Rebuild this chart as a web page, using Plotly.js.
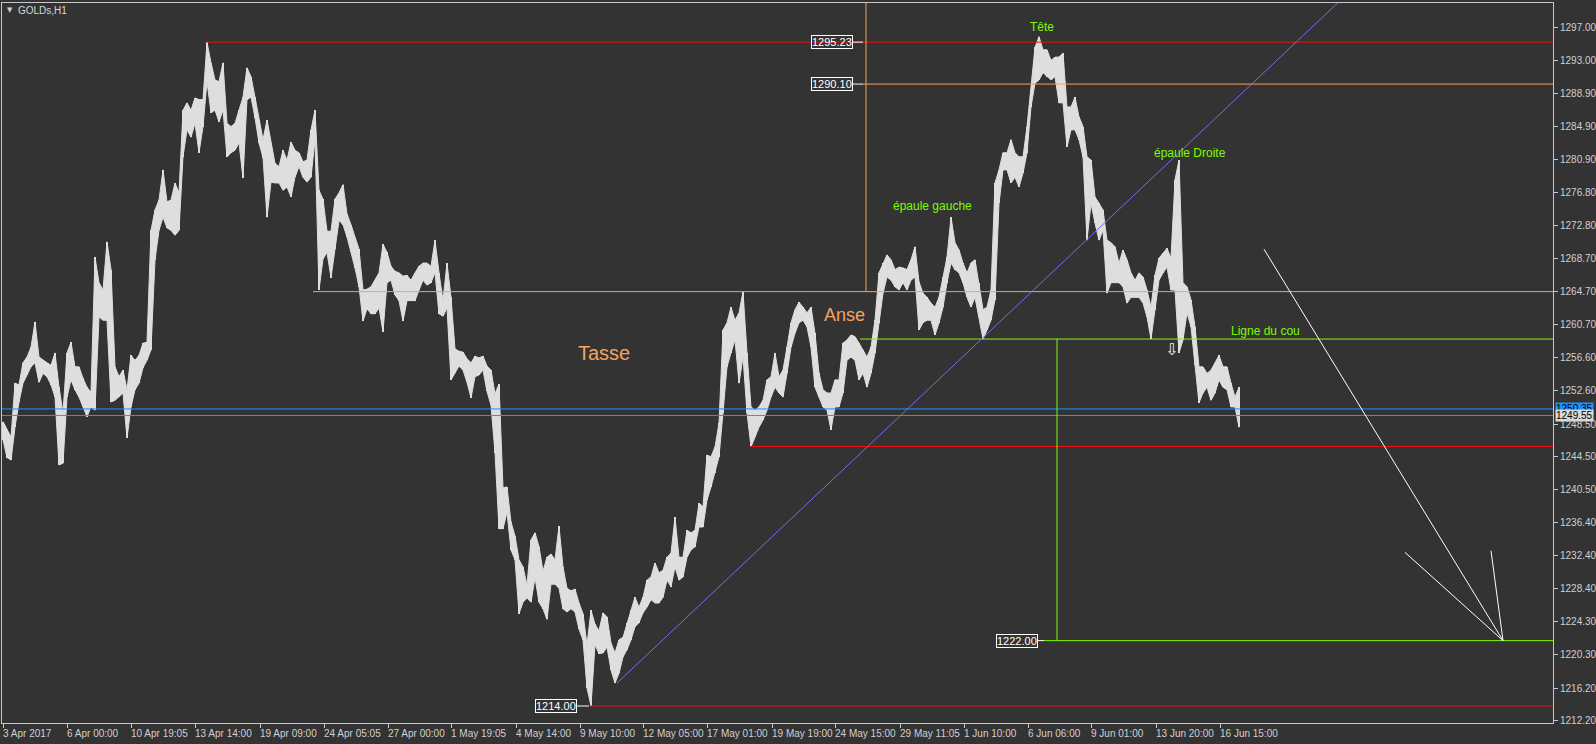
<!DOCTYPE html>
<html>
<head>
<meta charset="utf-8">
<script src="https://cdn.plot.ly/plotly-3.0.1.min.js"></script>
<style>
html,body{margin:0;padding:0;background:#333333;}
#chart{width:1596px;height:744px;}
</style>
</head>
<body>
<div id="chart"></div>
<script>
// ---- Chart data (GOLDs, H1) : high/low, one entry per 4 hourly bars ----
const symbolTitle = 'GOLDs,H1';
const barsPerEntry = 4;

const highs = [
1248.8,1247.8,1246.9,1253.5,1253.3,1256.0,1256.7,1257.9,1261.0,1256.7,
1256.3,1256.0,1255.7,1257.2,1253.0,1249.9,1257.2,1258.5,1255.5,1255.5,
1254.1,1253.0,1252.4,1268.9,1265.8,1264.9,1270.8,1267.4,1255.5,1254.3,
1255.1,1252.7,1256.9,1256.3,1256.9,1258.4,1258.5,1272.2,1274.7,1275.9,
1279.6,1275.7,1275.9,1278.0,1276.8,1286.9,1287.8,1286.9,1288.4,1288.2,
1288.2,1295.2,1292.7,1290.6,1290.4,1292.7,1285.3,1284.9,1285.3,1286.9,
1288.5,1292.1,1291.0,1288.5,1285.7,1283.3,1285.7,1282.9,1280.4,1280.0,
1282.0,1280.8,1283.0,1282.0,1281.7,1280.6,1280.8,1284.5,1286.9,1277.1,
1276.0,1272.1,1272.1,1276.0,1276.8,1277.8,1274.2,1272.9,1271.3,1269.9,
1264.9,1265.0,1265.3,1266.1,1267.0,1270.5,1269.5,1267.8,1267.2,1267.0,
1266.6,1266.7,1266.1,1267.0,1267.8,1268.2,1268.2,1267.8,1271.0,1267.0,
1263.6,1268.2,1264.0,1257.7,1257.4,1257.3,1256.5,1256.0,1256.8,1256.6,
1256.8,1255.6,1255.1,1252.2,1253.4,1240.7,1240.8,1236.5,1234.8,1231.9,
1231.0,1228.8,1234.3,1235.2,1233.5,1230.5,1232.2,1232.6,1231.9,1236.0,
1231.0,1228.4,1228.1,1228.3,1226.6,1225.3,1221.5,1225.7,1224.0,1223.2,
1225.4,1224.9,1221.7,1220.5,1222.1,1222.4,1224.2,1225.7,1227.3,1226.1,
1227.3,1229.4,1229.8,1231.5,1230.3,1230.6,1232.2,1232.7,1237.1,1232.2,
1232.2,1235.5,1235.2,1235.5,1238.8,1238.4,1244.7,1244.5,1245.7,1248.6,
1260.0,1260.9,1262.8,1261.2,1262.1,1264.7,1257.2,1250.6,1250.2,1250.6,
1251.4,1253.9,1254.3,1257.2,1254.3,1255.1,1257.9,1260.9,1262.5,1263.4,
1262.8,1262.1,1262.8,1259.6,1254.7,1252.7,1252.3,1252.3,1253.9,1253.9,
1258.4,1258.8,1259.4,1259.2,1258.4,1257.6,1256.7,1257.9,1261.2,1267.0,
1268.2,1269.2,1268.6,1267.4,1267.7,1267.6,1267.4,1268.6,1270.2,1265.9,
1264.5,1264.0,1263.3,1262.8,1264.0,1266.5,1268.9,1273.8,1270.7,1269.8,
1268.2,1267.0,1268.2,1268.6,1265.8,1262.5,1262.8,1264.9,1278.0,1279.6,
1281.7,1281.7,1283.3,1281.7,1281.2,1281.2,1284.9,1289.4,1294.6,1295.9,
1294.3,1294.3,1293.0,1293.4,1293.4,1293.9,1287.3,1287.3,1288.5,1286.1,
1284.9,1281.2,1280.8,1276.3,1275.5,1274.7,1271.0,1270.7,1270.2,1268.2,
1269.8,1268.6,1267.0,1266.1,1267.0,1266.5,1264.9,1262.8,1266.7,1268.8,
1269.4,1270.0,1268.8,1278.4,1280.8,1265.8,1265.3,1263.7,1260.4,1255.5,
1255.5,1254.7,1255.1,1256.0,1256.9,1255.5,1255.5,1253.5,1251.8,1253.0
];

const lows = [
1246.6,1244.4,1244.1,1248.1,1251.2,1253.5,1254.5,1255.5,1256.0,1253.6,
1254.7,1254.3,1253.3,1251.8,1243.5,1243.7,1251.8,1253.9,1252.7,1251.8,
1250.6,1249.4,1250.6,1250.2,1261.6,1261.2,1261.2,1251.2,1251.4,1251.8,
1252.3,1246.8,1250.6,1252.7,1253.5,1255.4,1256.3,1257.6,1268.6,1272.2,
1273.8,1272.5,1272.2,1271.6,1272.2,1281.2,1284.5,1283.6,1285.3,1281.7,
1284.9,1290.4,1286.6,1286.9,1285.5,1286.9,1281.2,1281.7,1282.0,1282.9,
1278.6,1288.2,1288.5,1286.0,1282.9,1281.1,1273.8,1278.1,1278.0,1278.0,
1277.1,1277.5,1276.3,1278.7,1280.0,1278.7,1278.1,1278.7,1283.3,1264.9,
1268.7,1269.5,1266.4,1269.9,1273.4,1272.9,1271.4,1269.5,1267.6,1265.3,
1261.1,1262.6,1262.0,1262.0,1262.7,1259.8,1265.8,1266.1,1264.3,1263.6,
1261.1,1263.6,1263.6,1263.6,1264.9,1266.1,1265.5,1265.8,1267.0,1262.0,
1261.7,1262.7,1253.9,1254.7,1255.6,1255.1,1253.6,1251.7,1254.3,1254.5,
1255.1,1252.5,1250.8,1245.0,1235.7,1235.7,1237.7,1233.1,1231.9,1225.3,
1226.7,1227.2,1226.7,1229.7,1226.7,1225.9,1224.6,1228.9,1228.9,1228.4,
1225.9,1225.5,1225.9,1225.5,1223.4,1222.1,1216.2,1214.0,1221.5,1220.4,
1220.5,1221.2,1218.4,1216.8,1218.0,1220.0,1220.9,1222.1,1223.7,1224.2,
1225.4,1226.1,1227.0,1226.6,1226.6,1227.3,1229.4,1228.6,1231.0,1229.4,
1229.8,1232.2,1233.1,1233.5,1235.9,1235.9,1239.2,1240.8,1242.5,1244.5,
1249.9,1255.5,1257.2,1258.8,1253.5,1256.7,1249.9,1245.7,1246.9,1248.1,
1249.0,1250.2,1251.8,1253.0,1252.3,1251.8,1254.7,1257.9,1259.6,1260.9,
1261.2,1260.4,1257.9,1253.0,1251.8,1250.6,1250.2,1247.8,1250.6,1250.6,
1252.3,1256.3,1256.7,1256.3,1253.9,1254.7,1253.0,1254.7,1257.2,1260.9,
1264.5,1266.5,1266.1,1265.3,1264.9,1265.8,1264.9,1266.1,1266.5,1260.0,
1260.9,1261.2,1261.2,1259.4,1260.9,1262.8,1265.8,1268.2,1267.4,1267.0,
1265.8,1264.0,1262.8,1264.0,1261.6,1258.9,1260.0,1261.2,1263.7,1275.5,
1279.6,1279.6,1278.0,1278.7,1277.5,1279.2,1281.7,1287.3,1290.2,1290.6,
1291.5,1291.0,1290.6,1291.0,1287.8,1287.8,1282.4,1284.5,1284.5,1283.3,
1281.2,1271.0,1275.5,1273.1,1271.0,1272.2,1264.5,1265.8,1265.8,1265.8,
1265.3,1263.3,1264.0,1264.0,1264.0,1263.3,1261.6,1258.9,1262.5,1266.1,
1267.0,1267.7,1264.9,1264.9,1257.2,1258.8,1262.1,1260.4,1255.7,1251.1,
1252.3,1253.0,1251.4,1252.3,1253.9,1253.0,1252.7,1250.6,1250.6,1248.1
];

// Time axis (bar index of each label) and labels
const timeTickBars = [3,67,131,195,260,324,388,451,516,580,643,707,772,835,900,964,1028,1091,1156,1220];
const timeTickLabels = ['3 Apr 2017','6 Apr 00:00','10 Apr 19:05','13 Apr 14:00','19 Apr 09:00','24 Apr 05:05',
  '27 Apr 00:00','1 May 19:05','4 May 14:00','9 May 10:00','12 May 05:00','17 May 01:00','19 May 19:00',
  '24 May 15:00','29 May 11:05','1 Jun 10:00','6 Jun 06:00','9 Jun 01:00','13 Jun 20:00','16 Jun 15:00'];

// Price scale labels
const priceTicks = [1297.00,1293.00,1288.90,1284.90,1280.90,1276.80,1272.80,1268.70,1264.70,1260.70,1256.60,
  1252.60,1248.50,1244.50,1240.50,1236.40,1232.40,1228.40,1224.30,1220.30,1216.20,1212.20];

const bidPrice = 1250.35;
const askPrice = 1249.55;

// Drawn objects (bar index, price)
const horizontalLines = [
  {price:1295.23, fromBar:206, color:'#ee1111', label:true, labelBar:853, tipBar:863},
  {price:1290.10, fromBar:863, color:'#f4a460', label:true, labelBar:853, tipBar:863},
  {price:1264.70, fromBar:313, color:'#f4a460', label:false},
  {price:1258.90, fromBar:860, color:'#7cfc00', label:false},
  {price:1245.75, fromBar:750, color:'#ee1111', label:false},
  {price:1222.00, fromBar:1044, color:'#7cfc00', label:true, labelBar:1038, tipBar:1044},
  {price:1214.00, fromBar:589, color:'#ee1111', label:true, labelBar:577, tipBar:589}
];
const verticalSegments = [
  {bar:866, from:1264.70, to:1301.0, color:'#f4a460'},
  {bar:1057, from:1258.90, to:1222.00, color:'#7cfc00'}
];
const trendLine = {bar0:617, price0:1216.8, bar1:1340, price1:1300.3, color:'#7b68ee'};
const arrowLines = [
  {bar0:1264, price0:1269.9, bar1:1503, price1:1222.0},
  {bar0:1405, price0:1232.8, bar1:1503, price1:1222.0},
  {bar0:1491, price0:1233.0, bar1:1503, price1:1222.0}
];
const textLabels = [
  {text:'Tasse', bar:604, price:1257.2, color:'#f4a460', size:20},
  {text:'Anse', bar:844, price:1261.85, color:'#f4a460', size:18},
  {text:'épaule gauche', bar:932, price:1275.2, color:'#7cfc00', size:12},
  {text:'Tête', bar:1042, price:1297.1, color:'#7cfc00', size:12},
  {text:'épaule Droite', bar:1190, price:1281.7, color:'#7cfc00', size:12},
  {text:'Ligne du cou', bar:1265, price:1259.9, color:'#7cfc00', size:12}
];
const arrowSymbol = {text:'⇩', bar:1171, price:1257.6};

// ---- Build ----
const xs = highs.map((_, i) => i * barsPerEntry + barsPerEntry / 2 + 1);
const spans = highs.map((h, i) => h - lows[i]);
const BARCOL = '#dedede';

const lowTrace = {type:'scatter', mode:'lines', x:xs, y:lows, line:{color:BARCOL, width:1, shape:'linear'},
  hoverinfo:'skip', showlegend:false};
const highTrace = {type:'scatter', mode:'lines', x:xs, y:highs, line:{color:BARCOL, width:1, shape:'linear'},
  fill:'tonexty', fillcolor:BARCOL, hoverinfo:'skip', showlegend:false};
const barTrace = {type:'bar', x:xs, y:spans, base:lows, width:1.6,
  marker:{color:BARCOL, line:{width:0}}, hoverinfo:'skip', showlegend:false};

const FONT = 'Liberation Sans, Arial, sans-serif';
const shapes = [];
const annotations = [];

shapes.push({type:'line', xref:'paper', yref:'y', x0:0, x1:1, y0:bidPrice, y1:bidPrice, line:{color:'#1e90ff', width:1}});
shapes.push({type:'line', xref:'paper', yref:'y', x0:0, x1:1, y0:askPrice, y1:askPrice, line:{color:'#808080', width:1}});

horizontalLines.forEach(l => {
  shapes.push({type:'line', xref:'x', yref:'y', x0:l.fromBar, x1:1553, y0:l.price, y1:l.price, line:{color:l.color, width:1}});
  if (l.label) {
    shapes.push({type:'line', xref:'x', yref:'y', x0:l.labelBar, x1:l.tipBar, y0:l.price, y1:l.price, line:{color:'#ffffff', width:1}});
    annotations.push({xref:'x', yref:'y', x:l.labelBar, y:l.price, xanchor:'right', yanchor:'middle',
      text:l.price.toFixed(2), showarrow:false, font:{family:FONT, size:11, color:'#ffffff'},
      bordercolor:'#ffffff', borderwidth:1, borderpad:0});
  }
});
verticalSegments.forEach(v => {
  shapes.push({type:'line', xref:'x', yref:'y', x0:v.bar, x1:v.bar, y0:v.from, y1:v.to, line:{color:v.color, width:1}});
});
shapes.push({type:'line', xref:'x', yref:'y', x0:trendLine.bar0, x1:trendLine.bar1, y0:trendLine.price0, y1:trendLine.price1, line:{color:trendLine.color, width:1}});
arrowLines.forEach(a => {
  shapes.push({type:'line', xref:'x', yref:'y', x0:a.bar0, x1:a.bar1, y0:a.price0, y1:a.price1, line:{color:'#ffffff', width:1}});
});

textLabels.forEach(t => {
  annotations.push({xref:'x', yref:'y', x:t.bar, y:t.price, text:t.text, showarrow:false,
    font:{family:FONT, size:t.size, color:t.color}, xanchor:'center', yanchor:'middle'});
});
annotations.push({xref:'x', yref:'y', x:arrowSymbol.bar, y:arrowSymbol.price, text:arrowSymbol.text, showarrow:false,
  font:{family:'DejaVu Sans', size:16, color:'#e8f0ff'}, xanchor:'center', yanchor:'middle'});

// time labels (left aligned at their tick, as in the terminal)
timeTickBars.forEach((b, i) => {
  annotations.push({xref:'x', yref:'paper', x:b, y:0, xanchor:'left', yanchor:'top', xshift:-2, yshift:-3,
    text:timeTickLabels[i], showarrow:false, font:{family:FONT, size:10, color:'#d0d0d0'}});
});

// bid / ask price labels on the scale
annotations.push({xref:'paper', yref:'y', x:1, y:bidPrice, xanchor:'left', yanchor:'middle', xshift:2,
  text:bidPrice.toFixed(2), showarrow:false, font:{family:FONT, size:10, color:'#000000'}, bgcolor:'#1e90ff', borderpad:0});
annotations.push({xref:'paper', yref:'y', x:1, y:askPrice, xanchor:'left', yanchor:'middle', xshift:2,
  text:askPrice.toFixed(2), showarrow:false, font:{family:FONT, size:10, color:'#000000'}, bgcolor:'#d8d8d8', borderpad:0});

// title
annotations.push({xref:'paper', yref:'paper', x:0, y:1, xanchor:'left', yanchor:'top', xshift:3, yshift:-1,
  text:'▼', showarrow:false, font:{family:'DejaVu Sans', size:7, color:'#d0d0d0'}});
annotations.push({xref:'paper', yref:'paper', x:0, y:1, xanchor:'left', yanchor:'top', xshift:14, yshift:0,
  text:symbolTitle, showarrow:false, font:{family:FONT, size:10, color:'#d8d8d8'}});

const layout = {
  width:1596, height:744,
  margin:{l:2, r:43, t:3, b:21, pad:0},
  paper_bgcolor:'#333333', plot_bgcolor:'#333333',
  showlegend:false, bargap:0,
  xaxis:{type:'linear', range:[2,1553], showgrid:false, zeroline:false, showline:true, linecolor:'#c8c8c8', linewidth:1,
    mirror:true, ticks:'outside', ticklen:4, tickcolor:'#c8c8c8', tickvals:timeTickBars, showticklabels:false, fixedrange:true},
  yaxis:{side:'right', range:[1211.92,1300.02], showgrid:false, zeroline:false, showline:true, linecolor:'#c8c8c8', linewidth:1,
    mirror:true, ticks:'outside', ticklen:4, tickcolor:'#c8c8c8', tickvals:priceTicks, tickformat:'.2f',
    tickfont:{family:FONT, size:10, color:'#d0d0d0'}, fixedrange:true},
  shapes:shapes, annotations:annotations
};

Plotly.newPlot('chart', [lowTrace, highTrace, barTrace], layout, {staticPlot:true, displayModeBar:false});
</script>
</body>
</html>
